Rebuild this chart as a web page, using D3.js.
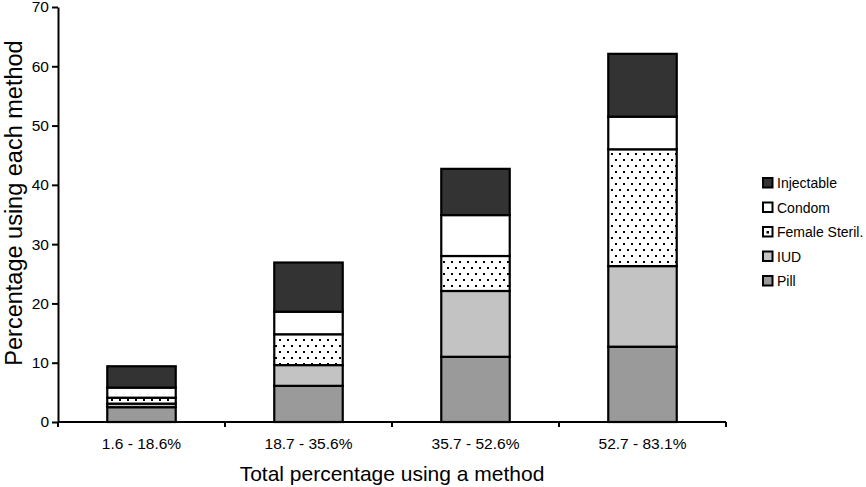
<!DOCTYPE html>
<html>
<head>
<meta charset="utf-8">
<script src="https://cdn.jsdelivr.net/npm/d3@7"></script>
<style>
  body { margin: 0; background: #fff; }
  text { font-family: "Liberation Sans", Arial, sans-serif; fill: #000; }
</style>
</head>
<body>
<div class="canvas"></div>
<script>
// chart data
const categories = ["1.6 - 18.6%", "18.7 - 35.6%", "35.7 - 52.6%", "52.7 - 83.1%"];
const methods = ["Pill", "IUD", "Female Steril.", "Condom", "Injectable"];
const pill = [2.5, 6.1, 11.0, 12.7];
const iud = [0.6, 3.5, 11.1, 13.6];
const femaleSteril = [1.0, 5.2, 5.9, 19.7];
const condom = [1.7, 3.8, 6.9, 5.5];
const injectable = [3.6, 8.3, 7.8, 10.6];
const yTicks = [0, 10, 20, 30, 40, 50, 60, 70];

const margin = { top: 7, right: 140, bottom: 65, left: 58 };
const width = 866, height = 487;
const graphWidth = width - margin.left - margin.right;
const graphHeight = height - margin.top - margin.bottom;

const svg = d3.select(".canvas").append("svg")
  .attr("width", width)
  .attr("height", height);

// dotted pattern for female sterilisation
const defs = svg.append("defs");
const pat = defs.append("pattern")
  .attr("id", "dots")
  .attr("patternUnits", "userSpaceOnUse")
  .attr("width", 8).attr("height", 12);
pat.append("rect").attr("width", 8).attr("height", 12).attr("fill", "#fff");
pat.append("rect").attr("x", 1).attr("y", 2).attr("width", 2).attr("height", 2).attr("fill", "#000");
pat.append("rect").attr("x", 5).attr("y", 8).attr("width", 2).attr("height", 2).attr("fill", "#000");

const fills = {
  "Pill": "#9a9a9a",
  "IUD": "#c3c3c3",
  "Female Steril.": "url(#dots)",
  "Condom": "#ffffff",
  "Injectable": "#333333"
};

const graph = svg.append("g")
  .attr("transform", `translate(${margin.left}, ${margin.top})`);

const x = d3.scaleBand().domain(categories).range([0, graphWidth]).paddingInner(0.59).paddingOuter(0.295);
const band = d3.scaleBand().domain(categories).range([0, graphWidth]);
const y = d3.scaleLinear().domain([0, 70]).range([graphHeight, 0]);

// build rows for stack
const rows = categories.map((c, i) => ({
  cat: c,
  "Pill": pill[i],
  "IUD": iud[i],
  "Female Steril.": femaleSteril[i],
  "Condom": condom[i],
  "Injectable": injectable[i]
}));
const series = d3.stack().keys(methods)(rows);

graph.selectAll("g.layer")
  .data(series)
  .enter().append("g")
    .attr("class", "layer")
    .attr("fill", d => fills[d.key])
  .selectAll("rect")
  .data(d => d)
  .enter().append("rect")
    .attr("x", d => x(d.data.cat))
    .attr("width", x.bandwidth())
    .attr("y", d => y(d[1]))
    .attr("height", d => y(d[0]) - y(d[1]))
    .attr("stroke", "#000")
    .attr("stroke-width", 2.2);

// axes
const yAxis = d3.axisLeft(y).tickValues(yTicks).tickSize(6).tickSizeOuter(0);
const yAxisGroup = graph.append("g").call(yAxis);
yAxisGroup.select(".domain").attr("stroke-width", 2);
yAxisGroup.selectAll(".tick line").attr("stroke-width", 2);
yAxisGroup.selectAll("text").attr("font-size", 15.5).attr("x", -9);

const xAxisGroup = graph.append("g")
  .attr("transform", `translate(0,${graphHeight})`);
xAxisGroup.append("line")
  .attr("x1", 0).attr("x2", graphWidth)
  .attr("stroke", "#000").attr("stroke-width", 2);
// category boundary ticks
xAxisGroup.selectAll("line.bnd")
  .data(categories.concat(["end"]))
  .enter().append("line")
    .attr("class", "bnd")
    .attr("x1", (d, i) => i < categories.length ? band(d) : graphWidth)
    .attr("x2", (d, i) => i < categories.length ? band(d) : graphWidth)
    .attr("y1", 0).attr("y2", 5)
    .attr("stroke", "#000").attr("stroke-width", 2);
xAxisGroup.selectAll("text.cat")
  .data(categories)
  .enter().append("text")
    .attr("class", "cat")
    .attr("x", d => band(d) + band.bandwidth() / 2)
    .attr("y", 27)
    .attr("text-anchor", "middle")
    .attr("font-size", 15.5)
    .text(d => d);

// axis titles
svg.append("text")
  .attr("x", margin.left + graphWidth / 2)
  .attr("y", 481)
  .attr("text-anchor", "middle")
  .attr("font-size", 21)
  .text("Total percentage using a method");

svg.append("text")
  .attr("transform", `translate(22, 203) rotate(-90)`)
  .attr("text-anchor", "middle")
  .attr("font-size", 23.5)
  .text("Percentage using each method");

// legend (top to bottom: Injectable ... Pill)
const legend = svg.append("g").attr("transform", "translate(763, 178)");
const legendItems = methods.slice().reverse();
const item = legend.selectAll("g")
  .data(legendItems)
  .enter().append("g")
    .attr("transform", (d, i) => `translate(0, ${i * 24.5})`);
item.append("rect")
  .attr("width", 9.5).attr("height", 9.5)
  .attr("fill", d => d === "Female Steril." ? "#fff" : fills[d])
  .attr("stroke", "#000").attr("stroke-width", 2);
item.filter(d => d === "Female Steril.")
  .append("rect")
  .attr("x", 3.5).attr("y", 4).attr("width", 2.5).attr("height", 2.5)
  .attr("fill", "#000");
item.append("text")
  .attr("x", 14)
  .attr("y", 10)
  .attr("font-size", 14)
  .text(d => d);
</script>
</body>
</html>
